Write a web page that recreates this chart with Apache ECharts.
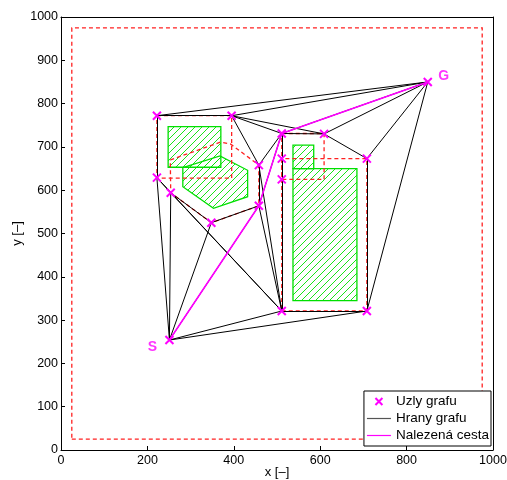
<!DOCTYPE html>
<html>
<head>
<meta charset="utf-8">
<script src="https://cdn.jsdelivr.net/npm/echarts@6/dist/echarts.min.js"></script>
<style>
  html, body { margin: 0; padding: 0; background: #fff; }
  #chart { width: 507px; height: 480px; }
</style>
</head>
<body>
<div id="chart"></div>
<script>
// Graph nodes: 0 = start S, 1 = goal G, the rest are corners of the inflated obstacles
const nodeX = [251, 849, 222, 395, 222, 254, 348, 458, 458, 511, 609, 511, 511, 708, 511, 708];
const nodeY = [254, 850, 772, 772, 629, 594, 525, 658, 564, 731, 730, 673, 625, 673, 321, 321];

// Graph edges as pairs of node indices
const edges = [
  [2, 3], [2, 1], [3, 1], [2, 4], [3, 7], [3, 9], [3, 10], [7, 9], [7, 8],
  [7, 14], [8, 14], [8, 6], [6, 5], [6, 0], [5, 4], [5, 0], [4, 0], [4, 14],
  [5, 14], [0, 14], [0, 15], [14, 15], [15, 13], [15, 1], [13, 1], [13, 10],
  [10, 1], [9, 10], [9, 11], [11, 12], [12, 14], [0, 8], [8, 9], [9, 1]
];

// Shortest path found in the graph (node indices)
const pathNodes = [0, 8, 9, 1];

// Obstacles (hatched polygons)
const obstacle1 = [[248, 653], [370, 653], [370, 747], [248, 747]];
const obstacle2 = [[282, 652], [368, 679], [432, 646], [432, 585], [353, 558], [282, 608]];
const obstacle3 = [[537, 345], [685, 345], [685, 650], [537, 650]];
const obstacle4 = [[537, 650], [585, 650], [585, 704], [537, 704]];

// Safety margins around obstacles and the workspace boundary (dashed)
const boundary = [[25, 25], [975, 25], [975, 975], [25, 975]];
const margin1 = [[222, 772], [395, 772], [395, 628], [222, 628]];
const margin2 = [[253, 670], [369, 711], [392, 707], [458, 658], [458, 564], [348, 525], [254, 594]];
const margin3 = [[511, 321], [708, 321], [708, 673], [511, 673]];
const margin4 = [[511, 731], [609, 731], [609, 625], [511, 625]];

// Axis ranges and tick steps
const xRange = [0, 1000], xStep = 200;
const yRange = [0, 1000], yStep = 100;

const FONT = '"Liberation Sans", Arial, Helvetica, sans-serif';
const GREEN = '#00e000';
const MAGENTA = '#ff00ff';
const RED = '#ff2020';
const EDGE_GREY = '#555';

// Diagonal hatching tile for obstacle fill
function hatchTile() {
  const s = 7;
  const c = document.createElement('canvas');
  c.width = s; c.height = s;
  const g = c.getContext('2d');
  g.strokeStyle = GREEN;
  g.lineWidth = 0.9;
  g.beginPath();
  g.moveTo(-1, s + 1); g.lineTo(s + 1, -1);
  g.moveTo(-1, 1); g.lineTo(1, -1);
  g.moveTo(s - 1, s + 1); g.lineTo(s + 1, s - 1);
  g.stroke();
  return c;
}
const hatch = { image: hatchTile(), repeat: 'repeat' };

const P = i => [nodeX[i], nodeY[i]];
const closed = poly => poly.concat([poly[0]]);

const obstacles = [obstacle1, obstacle2, obstacle3, obstacle4];
const margins = [boundary, margin1, margin2, margin3, margin4];

const chart = echarts.init(document.getElementById('chart'), null, { renderer: 'canvas' });

const xIcon = 'path://M0,0L10,10M10,0L0,10';
const barIcon = 'path://M0,0H24V1.2H0Z';
const plain = v => String(v);

chart.setOption({
  animation: false,
  backgroundColor: '#fff',
  textStyle: { fontFamily: FONT },
  grid: { left: 61, right: 14, top: 17, bottom: 30, containLabel: false, outerBoundsMode: 'none' },
  xAxis: [{
    type: 'value', min: xRange[0], max: xRange[1], interval: xStep,
    name: 'x [–]', nameLocation: 'middle', nameGap: 16, nameMoveOverlap: false,
    nameTextStyle: { fontSize: 13, color: '#000', fontFamily: FONT, verticalAlign: 'top' },
    axisLine: { lineStyle: { color: '#000', width: 1 } },
    axisTick: { inside: true, length: 4, lineStyle: { color: '#000' } },
    axisLabel: { fontSize: 12.5, color: '#000', margin: 4, fontFamily: FONT, formatter: plain },
    splitLine: { show: false }
  }, {
    type: 'value', position: 'top', min: xRange[0], max: xRange[1], interval: xStep,
    axisLine: { show: true, onZero: false, lineStyle: { color: '#000', width: 1 } },
    axisTick: { show: false }, axisLabel: { show: false }, splitLine: { show: false }
  }],
  yAxis: [{
    type: 'value', min: yRange[0], max: yRange[1], interval: yStep,
    name: 'y [–]', nameLocation: 'middle', nameGap: 37, nameMoveOverlap: false,
    nameTextStyle: { fontSize: 13, color: '#000', fontFamily: FONT },
    axisLine: { lineStyle: { color: '#000', width: 1 } },
    axisTick: { inside: true, length: 4, lineStyle: { color: '#000' } },
    axisLabel: { fontSize: 12.5, color: '#000', margin: 3, fontFamily: FONT, formatter: plain },
    splitLine: { show: false }
  }, {
    type: 'value', position: 'right', min: yRange[0], max: yRange[1], interval: yStep,
    axisLine: { show: true, onZero: false, lineStyle: { color: '#000', width: 1 } },
    axisTick: { show: false }, axisLabel: { show: false }, splitLine: { show: false }
  }],
  legend: {
    orient: 'vertical', right: 16, bottom: 34,
    backgroundColor: '#fff', borderColor: '#000', borderWidth: 1, borderRadius: 0,
    padding: [3, 2, 3, 3], itemGap: 2, itemWidth: 24, itemHeight: 7,
    textStyle: { fontSize: 13.5, lineHeight: 15, color: '#000', fontFamily: FONT },
    data: [
      { name: 'Uzly grafu', icon: xIcon,
        itemStyle: { color: 'transparent', borderColor: MAGENTA, borderWidth: 2 } },
      { name: 'Hrany grafu', icon: barIcon,
        itemStyle: { color: EDGE_GREY, borderColor: EDGE_GREY, borderWidth: 0 },
        lineStyle: { color: EDGE_GREY, width: 0 } },
      { name: 'Nalezená cesta', icon: barIcon,
        itemStyle: { color: MAGENTA, borderColor: MAGENTA, borderWidth: 0 },
        lineStyle: { color: MAGENTA, width: 0 } }
    ]
  },
  series: [
    {
      // hatched obstacles
      type: 'custom', name: 'obstacles', silent: true, z: 1,
      data: obstacles.map((_, i) => [i]),
      renderItem: (params, api) => {
        const poly = obstacles[params.dataIndex];
        const pts = poly.map(p => api.coord(p));
        return {
          type: 'polygon',
          shape: { points: pts },
          style: { fill: hatch, stroke: GREEN, lineWidth: 1.3 }
        };
      }
    },
    {
      // dashed safety margins
      type: 'lines', name: 'margins', coordinateSystem: 'cartesian2d', polyline: true,
      silent: true, z: 2,
      lineStyle: { color: RED, width: 1.3, type: [4, 3], opacity: 1 },
      data: margins.map(m => ({ coords: closed(m) }))
    },
    {
      type: 'lines', name: 'Hrany grafu', coordinateSystem: 'cartesian2d',
      silent: true, z: 3,
      itemStyle: { color: EDGE_GREY },
      lineStyle: { color: '#000', width: 1, opacity: 1 },
      data: edges.map(([a, b]) => ({ coords: [P(a), P(b)] }))
    },
    {
      type: 'line', name: 'Nalezená cesta', z: 4, silent: true,
      showSymbol: false, symbol: 'none',
      lineStyle: { color: MAGENTA, width: 1.6 },
      itemStyle: { color: MAGENTA },
      data: pathNodes.map(P)
    },
    {
      type: 'scatter', name: 'Uzly grafu', z: 5, silent: true,
      symbol: xIcon, symbolSize: 8,
      itemStyle: { color: 'transparent', borderColor: MAGENTA, borderWidth: 2, opacity: 1 },
      data: nodeX.map((x, i) => [x, nodeY[i]])
    },
    {
      // start / goal labels
      type: 'scatter', name: 'labels', z: 6, silent: true, symbol: 'circle', symbolSize: 1,
      itemStyle: { color: 'transparent' },
      label: { show: true, position: 'inside', color: MAGENTA, fontSize: 14, fontWeight: 'bold', fontFamily: FONT },
      data: [
        { value: P(0), label: { formatter: 'S', offset: [-17, 7] } },
        { value: P(1), label: { formatter: 'G', offset: [16, -6] } }
      ]
    }
  ]
});
</script>
</body>
</html>
